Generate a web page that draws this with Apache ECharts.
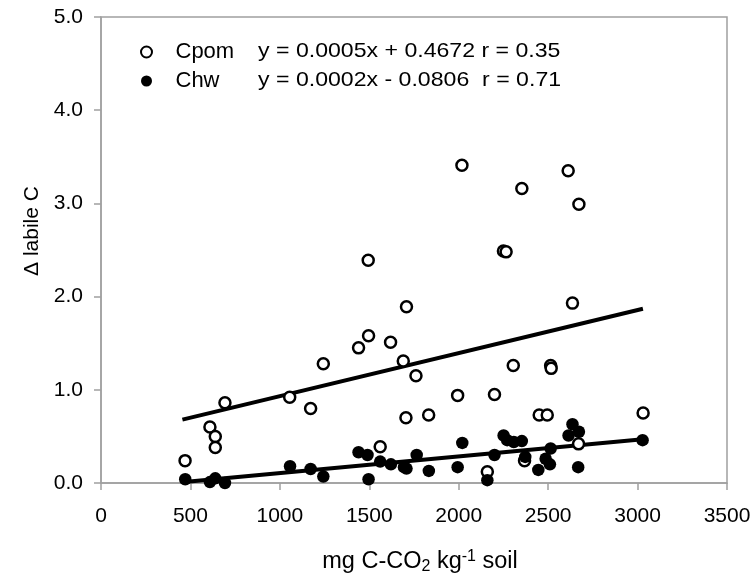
<!DOCTYPE html>
<html><head><meta charset="utf-8">
<script src="https://cdn.jsdelivr.net/npm/echarts@6/dist/echarts.min.js"></script>
<style>html,body{margin:0;padding:0;background:#fff}#c{width:755px;height:580px}</style>
</head><body><div id="c"></div>
<script>
var cpom = [[470,0.24],[609,0.60],[639,0.50],[639,0.38],[693,0.86],[1055,0.92],[1172,0.80],[1243,1.28],[1440,1.45],[1496,1.58],[1494,2.39],[1561,0.39],[1619,1.51],[1690,1.31],[1705,0.70],[1708,1.89],[1761,1.15],[1832,0.73],[1994,0.94],[2018,3.41],[2160,0.12],[2200,0.95],[2250,2.49],[2265,2.48],[2305,1.26],[2353,3.16],[2368,0.24],[2450,0.73],[2495,0.73],[2514,1.26],[2517,1.23],[2612,3.35],[2636,1.93],[2670,0.42],[2672,2.99],[3031,0.75]];
var chw = [[471,0.04],[609,0.01],[639,0.05],[693,0.00],[1057,0.18],[1172,0.15],[1243,0.07],[1440,0.33],[1490,0.30],[1496,0.04],[1561,0.23],[1621,0.20],[1694,0.17],[1708,0.155],[1765,0.30],[1833,0.13],[1994,0.17],[2020,0.43],[2160,0.03],[2200,0.30],[2251,0.51],[2271,0.46],[2308,0.44],[2353,0.45],[2372,0.28],[2445,0.14],[2486,0.26],[2510,0.20],[2514,0.37],[2614,0.51],[2636,0.63],[2672,0.55],[2668,0.17],[3028,0.46]];
var cpomTrend = [[455,0.68],[3030,1.87]];
var chwTrend = [[465,0.01],[3030,0.47]];
var xTicks = [0,500,1000,1500,2000,2500,3000,3500];
var yTicks = [0.0,1.0,2.0,3.0,4.0,5.0];
var names = ['Cpom','Chw'];
var equations = ['y = 0.0005x + 0.4672 r = 0.35','y = 0.0002x - 0.0806  r = 0.71'];

var chart = echarts.init(document.getElementById('c'));
var F = 'Liberation Sans, Arial, sans-serif';
var TXT = '#000';
chart.setOption({
  animation:false,
  grid:{left:101,right:28,top:17,bottom:92,show:true,borderColor:'#a0a0a0',borderWidth:1.5},
  xAxis:{type:'value',min:xTicks[0],max:xTicks[xTicks.length-1],interval:xTicks[1]-xTicks[0],
    axisLine:{show:true,lineStyle:{color:'#a0a0a0',width:1.5}},
    axisTick:{show:true,length:7,lineStyle:{color:'#a0a0a0',width:1.5}},
    splitLine:{show:false},
    axisLabel:{color:TXT,fontSize:21,fontFamily:F,margin:23,formatter:function(v){return String(v);}},
    name:'{a|mg C-CO}{s|2}{a| kg}{p|-1}{a| soil}',nameLocation:'middle',nameGap:66,
    nameTextStyle:{padding:[0,0,0,12],rich:{
      a:{fontSize:23.5,fontFamily:F,color:TXT},
      s:{fontSize:16,fontFamily:F,color:TXT,padding:[10,0,0,0]},
      p:{fontSize:16,fontFamily:F,color:TXT,padding:[0,0,10,0]}}}},
  yAxis:{type:'value',min:yTicks[0],max:yTicks[yTicks.length-1],interval:yTicks[1]-yTicks[0],
    axisLine:{show:true,lineStyle:{color:'#a0a0a0',width:1.5}},
    axisTick:{show:true,length:7,lineStyle:{color:'#a0a0a0',width:1.5}},
    splitLine:{show:false},
    axisLabel:{color:TXT,fontSize:21,fontFamily:F,margin:18,formatter:function(v){return v.toFixed(1);}},
    name:'Δ labile C',nameLocation:'middle',nameGap:56,nameRotate:90,
    nameTextStyle:{fontSize:21,fontFamily:F,color:TXT,padding:[0,0,0,38]}},
  legend:{orient:'vertical',left:135,top:36,itemGap:7,itemWidth:48,itemHeight:11,
    textStyle:{fontSize:22,fontFamily:F,color:TXT},data:names},
  graphic:[
    {type:'text',x:258,y:51,scaleX:1.1,style:{x:0,y:0,text:equations[0],font:'21px '+F,fill:TXT,verticalAlign:'middle'}},
    {type:'text',x:258,y:80,scaleX:1.1,style:{x:0,y:0,text:equations[1],font:'21px '+F,fill:TXT,verticalAlign:'middle'}}
  ],
  series:[
    {name:names[0],type:'scatter',data:cpom,symbol:'circle',symbolSize:11,z:3,
      itemStyle:{color:'#fff',borderColor:'#000',borderWidth:2.5,opacity:1}},
    {name:names[1],type:'scatter',data:chw,symbol:'circle',symbolSize:12.5,z:4,
      itemStyle:{color:'#000',borderColor:'#000',borderWidth:0,opacity:1}},
    {type:'line',data:cpomTrend,symbol:'none',lineStyle:{color:'#000',width:4},z:2,silent:true},
    {type:'line',data:chwTrend,symbol:'none',lineStyle:{color:'#000',width:4},z:2,silent:true}
  ]
});
</script></body></html>
